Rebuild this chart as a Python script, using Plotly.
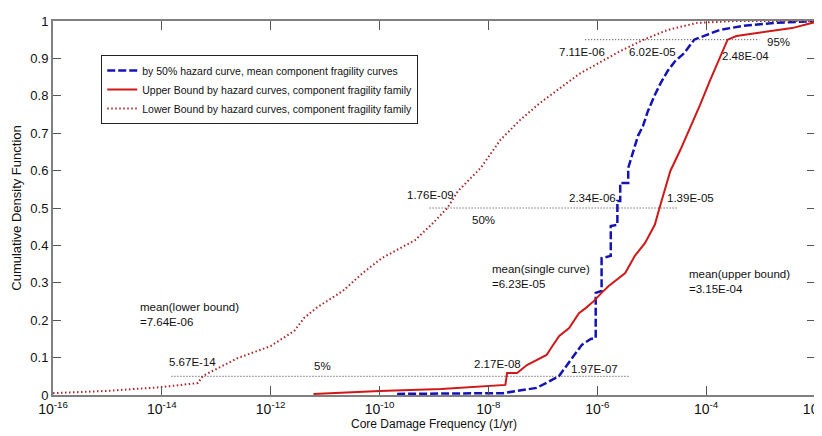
import plotly.graph_objects as go

# lower bound curve (dotted)
lb_x = [1e-16, 9.8e-16, 9.8e-15, 4.6e-14, 5.67e-14, 2.5e-13, 1.0e-12, 2.7e-12, 4.1e-12,
        6.9e-12, 2.1e-11, 4.9e-11, 1.1e-10, 4.5e-10, 8.9e-10, 1.76e-9, 2.75e-9, 4.8e-9,
        7.2e-9, 1.66e-8, 3.8e-8, 8.7e-8, 2.0e-7, 4.6e-7, 1.07e-6, 2.45e-6, 7.11e-6,
        1.95e-5, 6.8e-5, 3.5e-4, 1e-2]
lb_y = [0.005, 0.011, 0.021, 0.032, 0.051, 0.099, 0.131, 0.171, 0.206,
        0.233, 0.278, 0.326, 0.366, 0.414, 0.455, 0.50, 0.545, 0.58,
        0.607, 0.682, 0.735, 0.78, 0.82, 0.858, 0.888, 0.917, 0.95,
        0.976, 0.995, 1.0, 1.0]

# 50% hazard curve (dashed)
bl_x = [2.1e-10, 1.0e-8, 1.87e-8, 7.7e-8, 1.97e-7, 3.45e-7, 5.2e-7, 7.6e-7, 9.35e-7,
        9.35e-7, 1.2e-6, 1.2e-6, 1.77e-6, 1.77e-6, 2.34e-6, 2.34e-6, 2.64e-6, 2.64e-6,
        3.7e-6, 3.7e-6, 5.6e-6, 6.9e-6, 8.5e-6, 1.14e-5, 1.46e-5, 1.95e-5, 2.7e-5,
        3.95e-5, 6.02e-5, 1.03e-4, 1.77e-4, 4.8e-4, 1.9e-3, 1e-2]
bl_y = [0.003, 0.005, 0.005, 0.019, 0.05, 0.099, 0.134, 0.15, 0.152,
        0.273, 0.278, 0.366, 0.372, 0.452, 0.455, 0.519, 0.519, 0.567,
        0.567, 0.607, 0.693, 0.719, 0.759, 0.802, 0.834, 0.866, 0.893,
        0.914, 0.95, 0.963, 0.976, 0.987, 0.995, 1.0]

# upper bound curve (solid)
ub_x = [6.1e-12, 1.0e-10, 1.36e-9, 9.6e-9, 2.05e-8, 2.2e-8, 3.36e-8, 5.1e-8, 7.7e-8,
        1.17e-7, 1.5e-7, 2.0e-7, 3.04e-7, 4.6e-7, 6.2e-7, 8.6e-7, 1.2e-6, 1.6e-6,
        3.26e-6, 4.9e-6, 7.5e-6, 1.14e-5, 1.39e-5, 1.8e-5, 2.2e-5, 3.35e-5, 5.1e-5,
        7.7e-5, 1.17e-4, 1.77e-4, 2.48e-4, 3.6e-4, 9.3e-4, 3.8e-3, 1e-2]
ub_y = [0.003, 0.011, 0.016, 0.024, 0.027, 0.059, 0.059, 0.080, 0.094,
        0.107, 0.131, 0.158, 0.179, 0.219, 0.233, 0.251, 0.273, 0.291,
        0.326, 0.372, 0.406, 0.455, 0.50, 0.553, 0.599, 0.655, 0.714,
        0.775, 0.84, 0.901, 0.95, 0.96, 0.968, 0.981, 0.997]

# percentile reference lines: (level, x start, x end)
ref_levels = [0.05, 0.5, 0.95]
ref_x0 = [1.5e-14, 8.3e-10, 6.0e-7]
ref_x1 = [4.0e-6, 2.9e-5, 9.5e-4]

tick_vals = [1e-16, 1e-14, 1e-12, 1e-10, 1e-8, 1e-6, 1e-4, 1e-2]
tick_text = ['10<sup>-16</sup>', '10<sup>-14</sup>', '10<sup>-12</sup>', '10<sup>-10</sup>',
             '10<sup>-8</sup>', '10<sup>-6</sup>', '10<sup>-4</sup>', '10<sup>-2</sup>']

FONT = 'Liberation Sans, Arial, sans-serif'

fig = go.Figure()
fig.add_trace(go.Scatter(x=bl_x, y=bl_y, mode='lines',
                         name='by 50% hazard curve, mean component fragility curves',
                         line=dict(color='#1414b4', width=2.5, dash='8px,3px')))
fig.add_trace(go.Scatter(x=ub_x, y=ub_y, mode='lines',
                         name='Upper Bound by hazard curves, component fragility family',
                         line=dict(color='#d01818', width=2)))
fig.add_trace(go.Scatter(x=lb_x, y=lb_y, mode='lines',
                         name='Lower Bound by hazard curves, component fragility family',
                         line=dict(color='#a82828', width=2, dash='1.5px,2.5px')))
for lv, a, b in zip(ref_levels, ref_x0, ref_x1):
    fig.add_trace(go.Scatter(x=[a, b], y=[lv, lv], mode='lines', showlegend=False,
                             line=dict(color='#333333', width=1, dash='1px,2px')))

# plot area: x 45..819, y 13..387 px
def pp(x, y):
    return (x - 45) / 774, (387 - y) / 374

labels = [
    ('7.11E-06', 582, 44), ('6.02E-05', 654, 44), ('2.48E-04', 748, 48), ('95%', 782, 34),
    ('1.76E-09', 428, 187), ('50%', 482, 212), ('2.34E-06', 593, 190), ('1.39E-05', 693, 190),
    ('5.67E-14', 187, 354), ('5%', 319, 358), ('2.17E-08', 496, 356), ('1.97E-07', 595, 361),
]
anns = []
for t, x, y in labels:
    ax, ay = pp(x, y)
    anns.append(dict(text=t, x=ax, y=ay, xref='paper', yref='paper', showarrow=False,
                     xanchor='center', yanchor='middle', font=dict(size=11.5, color='#111')))
for t, x, y in [('mean(single curve)<br>=6.23E-05', 489, 253),
                ('mean(upper bound)<br>=3.15E-04', 689, 258),
                ('mean(lower bound)<br>=7.64E-06', 131, 291)]:
    ax, ay = pp(x, y)
    anns.append(dict(text=t, x=ax, y=ay, xref='paper', yref='paper', showarrow=False,
                     xanchor='left', yanchor='top', align='left',
                     font=dict(size=11.5, color='#111')))

lx, ly = pp(94, 47)
fig.update_layout(
    width=822, height=436,
    margin=dict(l=45, r=3, t=13, b=49),
    paper_bgcolor='white', plot_bgcolor='white',
    font=dict(family=FONT, size=12, color='#111'),
    showlegend=True,
    legend=dict(x=lx, y=ly, xanchor='left', yanchor='top',
                bgcolor='white', bordercolor='#222', borderwidth=1,
                font=dict(size=10.5), tracegroupgap=0, itemwidth=30),
    annotations=anns,
    xaxis=dict(type='log', range=[-16, -2], tickvals=tick_vals, ticktext=tick_text,
               showgrid=False, zeroline=False, showline=True, linecolor='#808080',
               linewidth=2, mirror='ticks', ticks='inside', ticklen=9,
               tickcolor='#555', tickfont=dict(size=14), ticklabeloverflow='allow',
               title=dict(text='Core Damage Frequency (1/yr)', font=dict(size=12),
                          standoff=4)),
    yaxis=dict(range=[0, 1], dtick=0.1, tickformat='.1~f',
               showgrid=False, zeroline=False, showline=True, linecolor='#808080',
               linewidth=2, mirror='ticks', ticks='inside', ticklen=8,
               tickcolor='#555', tickfont=dict(size=13),
               title=dict(text='Cumulative Density Function', font=dict(size=13),
                          standoff=6)),
)
fig.write_html('out.html')
